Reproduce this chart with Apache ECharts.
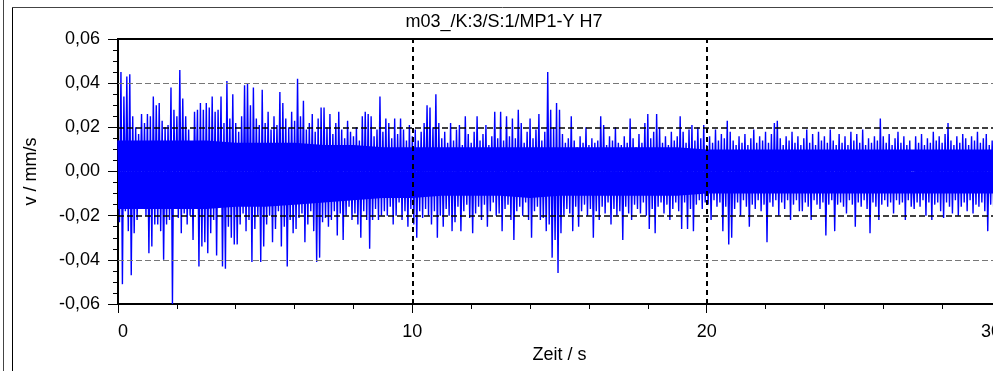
<!DOCTYPE html>
<html><head><meta charset="utf-8">
<script src="https://cdn.jsdelivr.net/npm/echarts@6/dist/echarts.min.js"></script>
<style>html,body{margin:0;padding:0;background:#fff}#c{width:993px;height:371px}</style>
</head><body><div id="c"></div>
<script>
const chartTitle = 'm03_/K:3/S:1/MP1-Y H7';
const xName = 'Zeit / s';
const yName = 'v / mm/s';
const pairStep = 0.1; // seconds between successive max/min peak pairs
// positive peaks, unit 0.001 mm/s, one per pairStep starting at t = 0
const hiPeak = [
 14,45,34,43,44,25,20,17,26,22, 26,25,34,30,31,23,20,21,38,28,
 25,46,33,25,19,13,27,28,31,28, 31,29,34,27,28,34,22,41,24,35,
 22,18,25,39,40,30,38,24,21,37, 22,27,19,25,21,36,31,24,20,27,
 23,42,25,32,19,22,26,18,24,29, 29,20,26,17,22,27,19,15,23,18,
 16,20,14,25,27,26,25,16,19,34, 18,24,22,15,24,17,24,19,14,21,
 16,19,14,18,22,30,29,20,35,22, 15,18,13,22,14,19,21,12,25,17,
 13,18,25,14,17,21,12,16,27,15, 27,14,25,16,24,15,28,22,13,18,
 24,15,19,26,14,18,45,28,20,31, 28,17,13,15,25,14,11,16,13,20,
 12,15,13,14,25,21,12,16,14,20, 13,12,16,13,24,15,11,17,13,22,
 26,15,18,26,20,13,16,12,18,14, 16,25,18,13,19,21,14,20,15,21,
 12,16,13,19,14,17,15,23,18,14, 12,16,13,17,12,15,19,13,16,14,
 18,13,17,22,23,15,12,16,14,18, 13,16,12,15,19,13,17,12,18,14,
 16,13,19,14,12,17,13,16,12,18, 14,17,13,19,12,15,13,16,14,24,
 16,13,17,12,15,18,13,16,12,14, 0,16,13,17,12,15,13,18,14,16,
 13,17,22,14,12,16,13,17,15,12, 16,14,18,13,15,17,12,14,16,13
];
// negative peaks, unit 0.001 mm/s, each half a step after its positive peak
const loPeak = [
 -23,-51,-18,-27,-47,-28,-22,-12,-16,-20, -37,-34,-24,-24,-27,-40,-24,-22,-60,-16,
 -21,-28,-19,-24,-20,-31,-13,-43,-34,-32, -37,-28,-22,-38,-15,-43,-44,-25,-30,-33,
 -33,-24,-19,-27,-22,-41,-26,-20,-41,-34, -24,-20,-32,-26,-18,-34,-25,-43,-22,-28,
 -26,-21,-19,-32,-24,-18,-27,-41,-39,-23, -21,-25,-22,-18,-29,-19,-31,-20,-16,-22,
 -19,-24,-30,-18,-22,-35,-22,-17,-22,-20, -18,-20,-16,-24,-20,-14,-22,-18,-25,-17,
 -24,-30,-18,-21,-17,-20,-24,-18,-30,-20, -25,-17,-20,-27,-23,-16,-27,-18,-15,-21,
 -28,-19,-16,-22,-15,-25,-18,-14,-20,-19, -27,-17,-15,-22,-31,-18,-16,-20,-14,-22,
 -30,-18,-16,-22,-21,-27,-24,-39,-31,-46, -28,-20,-17,-19,-27,-16,-25,-18,-15,-20,
 -17,-30,-18,-22,-16,-19,-14,-24,-17,-20, -18,-31,-16,-19,-22,-15,-17,-19,-14,-20,
 -26,-17,-28,-16,-14,-19,-15,-22,-17,-14, -18,-26,-14,-26,-17,-27,-15,-13,-17,-14,
 -15,-22,-13,-16,-14,-27,-16,-33,-30,-17, -14,-20,-13,-16,-25,-15,-17,-13,-18,-15,
 -32,-14,-16,-13,-20,-14,-17,-13,-22,-15, -13,-18,-18,-14,-16,-22,-13,-15,-17,-14,
 -29,-15,-13,-27,-15,-14,-16,-19,-13,-15, -25,-14,-16,-13,-17,-28,-14,-16,-22,-15,
 -13,-16,-14,-19,-13,-15,-14,-22,-13,-16, -17,-14,-16,-13,-20,-14,-22,-15,-14,-18,
 -21,-14,-16,-19,-13,-20,-16,-14,-18,-13, -19,-15,-16,-14,-18,-27,-15,-16,-14,-17
];
// envelope of the dense core of the signal, one value per second (t = 0..30), unit 0.001 mm/s
const coreTime = [0,1,2,3,4,5,6,7,8,9,10,11,12,13,14,15,16,17,18,19,20,21,22,23,24,25,26,27,28,29,30];
const coreHi = [14,14,14,14,13,13,13,12,12,11,11,11,11,11,11,11,11,11,11,11,10,10,10,10,10,10,10,10,10,10,10];
const coreLo = [-17,-17,-17,-17,-16,-16,-15,-14,-13,-12,-12,-11,-11,-11,-12,-11,-11,-11,-11,-11,-10,-10,-10,-10,-10,-10,-10,-10,-10,-10,-10];
const xMin = 0, xMax = 30, xStep = 10;
const yMin = -0.06, yMax = 0.06, yStep = 0.02;
const gridBlack = [0.02, -0.02];
const gridGrey = [0.04, -0.04];
const gridVert = [10, 20];

const peaks = [];
for (let i = 0; i < hiPeak.length; i++) {
  peaks.push([i * pairStep, hiPeak[i] / 1000]);
  peaks.push([i * pairStep + pairStep / 2, loPeak[i] / 1000]);
}
const coreUpper = coreTime.map((t, i) => [t, coreHi[i] / 1000]);
const coreLower = coreTime.map((t, i) => [t, coreLo[i] / 1000]);

const FONT = "'Liberation Sans', Arial, sans-serif";
const BLUE = '#0000ff';
const markData = [];
gridBlack.forEach(v => markData.push({yAxis: v, lineStyle: {color: '#000', width: 1.5, type: [6, 3]}}));
gridGrey.forEach(v => markData.push({yAxis: v, lineStyle: {color: '#777', width: 1.2, type: [6, 3]}}));
gridVert.forEach(v => markData.push({xAxis: v, lineStyle: {color: '#000', width: 2, type: [5, 4]}}));

const bandSeries = data => ({type: 'line', data, showSymbol: false, symbol: 'none', silent: true, z: 2,
  lineStyle: {width: 0, opacity: 0}, areaStyle: {color: BLUE, opacity: 1, origin: 0}});

const chart = echarts.init(document.getElementById('c'), null, {renderer: 'canvas'});
chart.setOption({
  animation: false,
  backgroundColor: '#fff',
  title: {text: chartTitle, left: 504, top: 13, textAlign: 'center', padding: 0,
    textStyle: {fontFamily: FONT, fontSize: 18, fontWeight: 'normal', color: '#000'}},
  grid: {left: 118, top: 39, width: 883, height: 265, containLabel: false, outerBoundsMode: 'none',
    show: true, borderColor: '#000', borderWidth: 2, backgroundColor: 'transparent'},
  xAxis: {type: 'value', min: xMin, max: xMax, interval: xStep,
    name: xName, nameLocation: 'middle', nameGap: 42,
    nameTextStyle: {fontFamily: FONT, fontSize: 18, color: '#000'},
    axisLine: {show: true, onZero: false, lineStyle: {color: '#000', width: 2}},
    axisTick: {show: true, length: 9, lineStyle: {color: '#000', width: 1}},
    minorTick: {show: true, splitNumber: 5, length: 5, lineStyle: {color: '#000', width: 1}},
    axisLabel: {fontFamily: FONT, fontSize: 18, color: '#000', margin: 19, alignMinLabel: 'left', alignMaxLabel: 'right'},
    splitLine: {show: false}},
  yAxis: {type: 'value', min: yMin, max: yMax, interval: yStep,
    name: yName, nameLocation: 'middle', nameGap: 78, nameRotate: 90,
    nameTextStyle: {fontFamily: FONT, fontSize: 18, color: '#000'},
    axisLine: {show: true, onZero: false, lineStyle: {color: '#000', width: 2}},
    axisTick: {show: true, length: 10, lineStyle: {color: '#000', width: 1}},
    minorTick: {show: true, splitNumber: 4, length: 5, lineStyle: {color: '#000', width: 1}},
    axisLabel: {fontFamily: FONT, fontSize: 18, color: '#000', margin: 18,
      formatter: v => v.toFixed(2).replace('.', ',')},
    splitLine: {show: false}},
  graphic: [
    {type: 'line', shape: {x1: 3.5, y1: 0, x2: 3.5, y2: 371}, style: {stroke: '#444', lineWidth: 1}},
    {type: 'line', shape: {x1: 12.5, y1: 7, x2: 12.5, y2: 371}, style: {stroke: '#000', lineWidth: 1}},
    {type: 'line', shape: {x1: 12, y1: 7.5, x2: 993, y2: 7.5}, style: {stroke: '#444', lineWidth: 1}}
  ],
  series: [
    bandSeries(coreUpper),
    bandSeries(coreLower),
    {type: 'line', data: peaks, showSymbol: false, symbol: 'none',
      lineStyle: {color: BLUE, width: 1.4}, itemStyle: {color: BLUE}, z: 3, clip: true,
      markLine: {silent: true, symbol: 'none', label: {show: false}, animation: false, data: markData}}
  ]
});
</script></body></html>
